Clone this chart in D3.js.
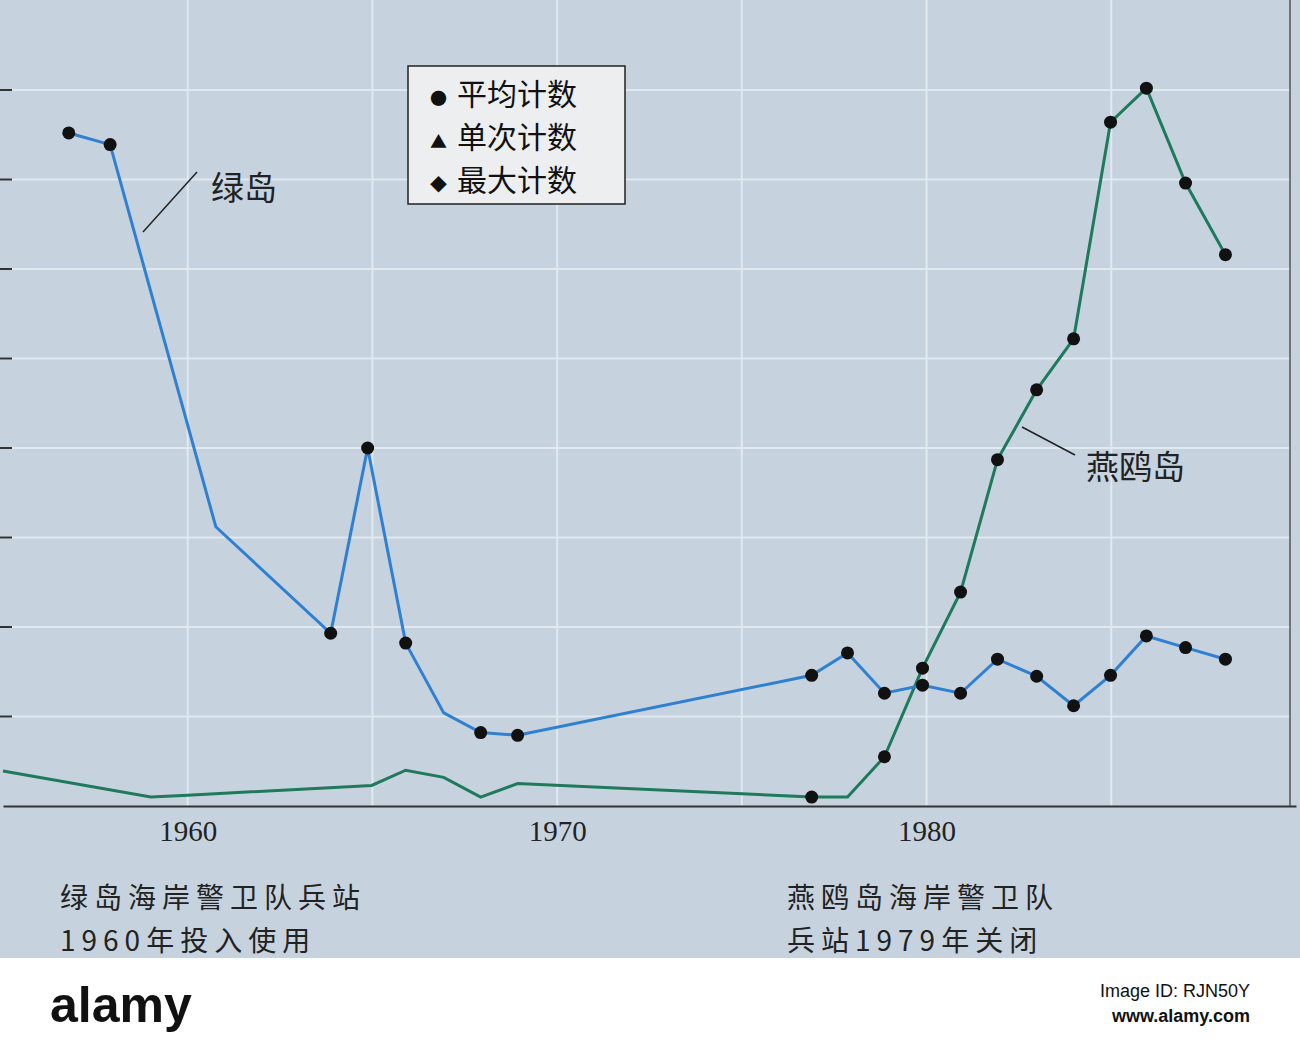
<!DOCTYPE html>
<html><head><meta charset="utf-8">
<script src="https://cdn.jsdelivr.net/npm/d3@7"></script>
<style>body{margin:0;background:#fff}svg{display:block}</style>
</head><body><svg id="c" width="1300" height="1048"></svg>
<script>
const xTicks=[1960,1970,1980];
const gridYears=[1960,1965,1970,1975,1980,1985];
const gridVals=[1,2,3,4,5,6,7,8];
const blueYears=[1956.78,1957.9,1960.76,1963.87,1964.87,1965.9,1966.93,1967.93,1968.93,1976.89,1977.86,1978.86,1979.89,1980.92,1981.92,1982.98,1983.98,1984.98,1985.95,1987.01,1988.09];
const blueVals=[7.52,7.39,3.12,1.93,4.0,1.82,1.04,0.82,0.79,1.46,1.71,1.26,1.35,1.26,1.64,1.45,1.12,1.46,1.90,1.77,1.64];
const blueDot=[1,1,0,1,1,1,0,1,1,1,1,1,1,1,1,1,1,1,1,1,1];
const greenYears=[1955,1959,1960,1964.98,1965.9,1966.93,1967.93,1968.93,1976.89,1977.86,1978.86,1979.89,1980.92,1981.92,1982.98,1983.98,1984.98,1985.95,1987.01,1988.09];
const greenVals=[0.39,0.10,0.12,0.23,0.40,0.32,0.10,0.25,0.10,0.10,0.55,1.54,2.39,3.87,4.65,5.22,7.64,8.02,6.96,6.16];
const greenDot=[0,0,0,0,0,0,0,0,1,0,1,1,1,1,1,1,1,1,1,1];
const legendItems=[["●","平均计数"],["▲","单次计数"],["◆","最大计数"]];

const svg=d3.select("#c");
const x=d3.scaleLinear().domain([1955,1990]).range([3,1296]);
const y=d3.scaleLinear().domain([0,8]).range([806,90]);
svg.append("rect").attr("width",1300).attr("height",958).attr("fill","#c6d3df");
svg.selectAll(".gv").data(gridYears).join("line").attr("x1",d=>x(d)).attr("x2",d=>x(d)).attr("y1",0).attr("y2",806).attr("stroke","#e0e8f0").attr("stroke-width",2);
svg.selectAll(".gh").data(gridVals).join("line").attr("x1",0).attr("x2",1290).attr("y1",d=>y(d)).attr("y2",d=>y(d)).attr("stroke","#e0e8f0").attr("stroke-width",2);
svg.selectAll(".yt").data(gridVals).join("line").attr("x1",0).attr("x2",12).attr("y1",d=>y(d)).attr("y2",d=>y(d)).attr("stroke","#333").attr("stroke-width",2);
svg.append("line").attr("x1",1290).attr("x2",1290).attr("y1",0).attr("y2",806).attr("stroke","#555").attr("stroke-width",1.5);
const ax=svg.append("g").attr("transform","translate(0,806)").call(d3.axisBottom(x).tickValues(xTicks).tickFormat(d3.format("d")).tickSize(0).tickPadding(14));
ax.select(".domain").attr("stroke","#333").attr("stroke-width",2);
ax.selectAll("text").attr("font-size",29).attr("font-family","Liberation Serif, serif").attr("fill","#222");

const line=d3.line().x(d=>x(d[0])).y(d=>y(d[1]));
const blue=blueYears.map((d,i)=>[d,blueVals[i],blueDot[i]]);
const green=greenYears.map((d,i)=>[d,greenVals[i],greenDot[i]]);
svg.append("path").datum(green).attr("d",line).attr("fill","none").attr("stroke","#1f7a5c").attr("stroke-width",3);
svg.append("path").datum(blue).attr("d",line).attr("fill","none").attr("stroke","#2f80d0").attr("stroke-width",3);
svg.selectAll(".db").data(blue.concat(green).filter(d=>d[2])).join("circle").attr("cx",d=>x(d[0])).attr("cy",d=>y(d[1])).attr("r",6.5).attr("fill","#111");

const cjk="Noto Sans CJK SC";
svg.append("text").attr("x",211).attr("y",200).text("绿岛").attr("font-size",33).attr("font-family",cjk).attr("fill","#222");
svg.append("line").attr("x1",197).attr("y1",172).attr("x2",143).attr("y2",232).attr("stroke","#222").attr("stroke-width",1.5);
svg.append("text").attr("x",1086).attr("y",479).text("燕鸥岛").attr("font-size",33).attr("font-family",cjk).attr("fill","#222");
svg.append("line").attr("x1",1075).attr("y1",455).attr("x2",1022).attr("y2",427).attr("stroke","#222").attr("stroke-width",1.5);

const lg=svg.append("g");
lg.append("rect").attr("x",408).attr("y",66).attr("width",217).attr("height",138).attr("fill","#eceef0").attr("stroke","#222").attr("stroke-width",1.5);
lg.selectAll(".li").data(legendItems).join("text").attr("x",430).attr("y",(d,i)=>105+i*43).attr("font-family",cjk).attr("fill","#111")
 .each(function(d){const t=d3.select(this);t.append("tspan").text(d[0]).attr("font-size",17);t.append("tspan").text(d[1]).attr("dx",10).attr("font-size",30);});

const notes=[[60,908,"绿岛海岸警卫队兵站"],[60,951,"1960年投入使用"],[787,908,"燕鸥岛海岸警卫队"],[787,951,"兵站1979年关闭"]];
svg.selectAll(".nt").data(notes).join("text").attr("x",d=>d[0]).attr("y",d=>d[1]).text(d=>d[2]).attr("font-size",28).attr("letter-spacing",6).attr("font-family",cjk).attr("fill","#222");

svg.append("rect").attr("y",958).attr("width",1300).attr("height",90).attr("fill","#fff");
svg.append("text").attr("x",50).attr("y",1022).text("alamy").attr("font-size",50).attr("font-weight","bold").attr("font-family","Liberation Sans, sans-serif").attr("fill","#111");
svg.append("text").attr("x",1250).attr("y",997).attr("text-anchor","end").text("Image ID: RJN50Y").attr("font-size",18).attr("font-family","Liberation Sans, sans-serif").attr("fill","#111");
svg.append("text").attr("x",1250).attr("y",1022).attr("text-anchor","end").text("www.alamy.com").attr("font-size",18).attr("font-weight","bold").attr("font-family","Liberation Sans, sans-serif").attr("fill","#111");
</script></body></html>
